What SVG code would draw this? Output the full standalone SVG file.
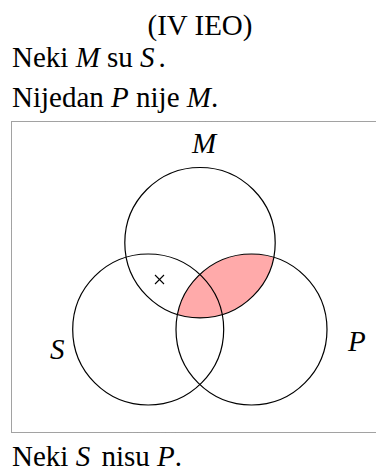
<svg xmlns="http://www.w3.org/2000/svg" width="376" height="472" viewBox="0 0 376 472">
<style>
text{font-family:"Liberation Serif","Times New Roman",serif;font-size:29px;fill:#000}
.i{font-style:italic}
.c{fill:none;stroke:#000;stroke-width:1.2}
.frame{fill:none;stroke:#444;stroke-width:1;stroke-dasharray:1 1}
</style>
<defs>
<clipPath id="clipM"><circle cx="200" cy="242.7" r="75.2"/></clipPath>
</defs>
<text x="200" y="35" text-anchor="middle">(IV IEO)</text>
<text x="12" y="67">Neki <tspan class="i">M</tspan> su <tspan class="i">S</tspan><tspan dx="4">.</tspan></text>
<text x="12" y="106.5">Nijedan <tspan class="i">P</tspan> nije <tspan class="i">M</tspan>.</text>
<rect class="frame" x="11.5" y="121.5" width="372" height="311"/>
<g id="shade">
<circle cx="251.5" cy="329.5" r="75.5" fill="#ffaaaa" clip-path="url(#clipM)"/>
</g>
<g id="M"><circle class="c" cx="200" cy="242.7" r="75.2"/><text class="i" x="204" y="153.3" text-anchor="middle">M</text></g>
<g id="S"><circle class="c" cx="148.2" cy="329.5" r="75.5"/><text class="i" x="50" y="359">S</text></g>
<g id="P"><circle class="c" cx="251.5" cy="329.5" r="75.5"/><text class="i" x="348" y="350.7">P</text></g>
<g id="x" stroke="#000" stroke-width="1.1"><line x1="155" y1="275" x2="164" y2="284"/><line x1="164" y1="275" x2="155" y2="284"/></g>
<text x="12" y="466">Neki <tspan class="i">S</tspan><tspan dx="4"> nisu </tspan><tspan class="i">P</tspan>.</text>
</svg>
